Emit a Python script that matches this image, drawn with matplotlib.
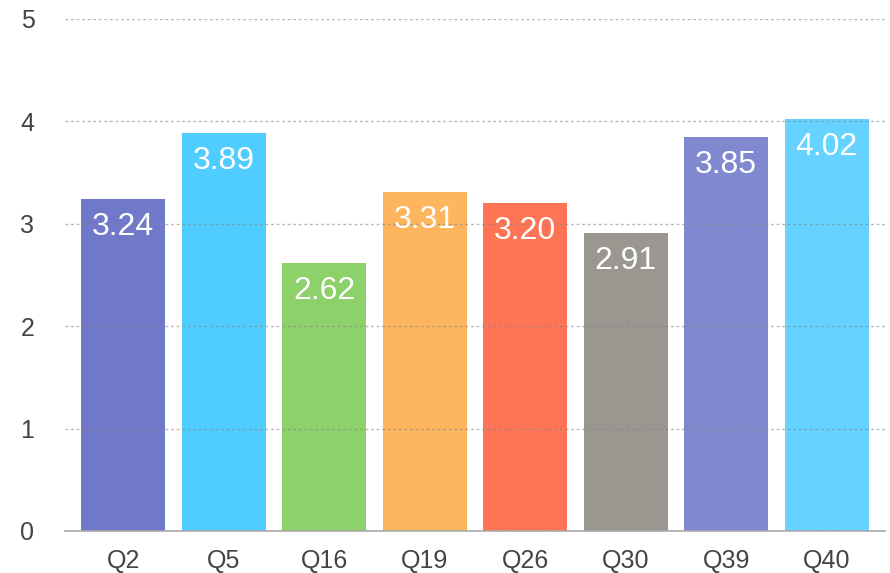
import matplotlib.pyplot as plt

questions = ['Q2', 'Q5', 'Q16', 'Q19', 'Q26', 'Q30', 'Q39', 'Q40']
scores = [3.24, 3.89, 2.62, 3.31, 3.20, 2.91, 3.85, 4.02]
bar_colors = ['#7079C9', '#4FCDFF', '#8DD16A', '#FDB55E',
              '#FF7455', '#9A9690', '#8089D0', '#66D2FF']
y_ticks = [0, 1, 2, 3, 4, 5]

plt.rcParams['font.family'] = ['Liberation Sans', 'DejaVu Sans']

fig = plt.figure(figsize=(8.9, 5.73), dpi=100)
ax = fig.add_axes([65/890, 42/573, 820/890, 512/573])

x = list(range(len(questions)))
bars = ax.bar(x, scores, width=0.84, color=bar_colors, zorder=1)

# value labels inside the top of each bar
for b, v in zip(bars, scores):
    ax.annotate('{:.2f}'.format(v), (b.get_x() + b.get_width()/2, v),
                xytext=(0, -28), textcoords='offset pixels',
                ha='center', va='center', color='white', fontsize=23, zorder=3)

ax.set_xlim(-0.58, 7.58)
ax.set_ylim(0, 5)
ax.set_yticks(y_ticks)
ax.set_xticks(x)
ax.set_xticklabels(questions)
ax.tick_params(axis='both', length=0, labelsize=18, colors='#444444')
ax.tick_params(axis='y', pad=22)
ax.tick_params(axis='x', pad=13)

ax.set_axisbelow(False)
ax.yaxis.grid(True, linestyle=(0, (2, 2)), color='#888888', alpha=0.6, linewidth=1, zorder=2)

for s in ['top', 'right', 'left']:
    ax.spines[s].set_visible(False)
ax.spines['bottom'].set_color('#aaaaaa')
ax.spines['bottom'].set_linewidth(1.2)

fig.savefig('out.png', dpi=100)
